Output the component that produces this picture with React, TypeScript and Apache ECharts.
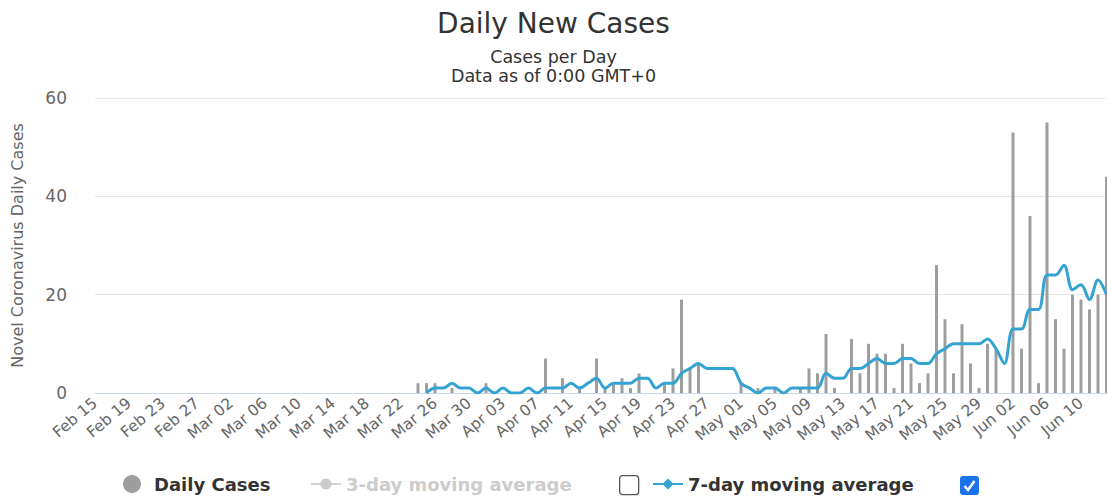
import React, { useEffect, useRef } from "react";
import * as echarts from "echarts";

const categories: string[] = [
  "Feb 15","Feb 16","Feb 17","Feb 18","Feb 19","Feb 20","Feb 21","Feb 22","Feb 23","Feb 24","Feb 25","Feb 26","Feb 27","Feb 28","Feb 29",
  "Mar 01","Mar 02","Mar 03","Mar 04","Mar 05","Mar 06","Mar 07","Mar 08","Mar 09","Mar 10","Mar 11","Mar 12","Mar 13","Mar 14","Mar 15","Mar 16","Mar 17","Mar 18","Mar 19","Mar 20","Mar 21","Mar 22","Mar 23","Mar 24","Mar 25","Mar 26","Mar 27","Mar 28","Mar 29","Mar 30","Mar 31",
  "Apr 01","Apr 02","Apr 03","Apr 04","Apr 05","Apr 06","Apr 07","Apr 08","Apr 09","Apr 10","Apr 11","Apr 12","Apr 13","Apr 14","Apr 15","Apr 16","Apr 17","Apr 18","Apr 19","Apr 20","Apr 21","Apr 22","Apr 23","Apr 24","Apr 25","Apr 26","Apr 27","Apr 28","Apr 29","Apr 30",
  "May 01","May 02","May 03","May 04","May 05","May 06","May 07","May 08","May 09","May 10","May 11","May 12","May 13","May 14","May 15","May 16","May 17","May 18","May 19","May 20","May 21","May 22","May 23","May 24","May 25","May 26","May 27","May 28","May 29","May 30","May 31",
  "Jun 01","Jun 02","Jun 03","Jun 04","Jun 05","Jun 06","Jun 07","Jun 08","Jun 09","Jun 10","Jun 11","Jun 12","Jun 13"
];

// Daily new cases (Feb 15 .. Jun 13)
const dailyCases: number[] = [
  0,0,0,0,0,0,0,0,0,0,0,0,0,0,0,
  0,0,0,0,0,0,0,0,0,0,0,0,0,0,0,0,0,0,0,0,0,0,0,2,2,2,0,1,0,0,0,
  2,0,0,0,0,0,0,7,0,3,0,1,0,7,1,2,3,1,4,0,0,2,5,19,5,6,0,0,0,0,
  2,0,1,0,1,0,0,1,5,4,12,1,0,11,4,10,8,8,1,10,6,2,4,26,15,4,14,6,1,10,9,
  0,53,9,36,2,55,15,9,20,19,17,20,44
];

// 7-day moving average as drawn (null before it starts)
const movingAvg7: (number | null)[] = [
  null,null,null,null,null,null,null,null,null,null,null,null,null,null,null,
  null,null,null,null,null,null,null,null,null,null,null,null,null,null,null,null,null,null,null,null,null,null,null,null,0,1,1,2,1,1,0,
  1,0,1,0,0,1,0,1,1,1,2,1,2,3,1,2,2,2,3,3,1,2,2,4,5,6,5,5,5,5,
  2,1,0,1,1,0,1,1,1,1,4,3,3,5,5,6,7,6,6,7,7,6,6,8,9,10,10,10,10,11,9,
  6,13,13,17,17,24,24,26,21,22,19,23,20
];

const movingAvg3: (number | null)[] = [];

const yTicks = { min: 0, max: 60, interval: 20 };

export default function App() {
  const ref = useRef<HTMLDivElement>(null);

  useEffect(() => {
    document.body.style.margin = "0";
    if (!ref.current) return;
    const chart = echarts.init(ref.current, undefined, { renderer: "svg" });
    const font = "DejaVu Sans";
    const legendText = { fontSize: 18, fontWeight: "bold", color: "#333333", fontFamily: font };
    chart.setOption({
      animation: false,
      backgroundColor: "#ffffff",
      textStyle: { fontFamily: font },
      title: {
        text: "Daily New Cases",
        subtext: "Cases per Day\nData as of 0:00 GMT+0",
        left: "center",
        top: 4,
        itemGap: 10,
        textStyle: { fontSize: 28, fontWeight: "normal", color: "#333333", fontFamily: font },
        subtextStyle: { fontSize: 17.5, color: "#333333", lineHeight: 19, fontFamily: font },
      },
      grid: { left: 95, right: 0.5, top: 98, bottom: 104, containLabel: false },
      legend: [
        {
          data: ["Daily Cases"],
          left: 123,
          top: 475,
          padding: 0,
          icon: "circle",
          itemWidth: 34,
          itemHeight: 18,
          textStyle: legendText,
        },
        {
          data: ["3-day moving average"],
          left: 310,
          top: 475,
          padding: 0,
          itemWidth: 30,
          itemHeight: 14,
          inactiveColor: "#cccccc",
          selected: { "3-day moving average": false },
          textStyle: legendText,
        },
        {
          data: ["7-day moving average"],
          left: 652,
          top: 475,
          padding: 0,
          itemWidth: 30,
          itemHeight: 14,
          textStyle: legendText,
        },
      ],
      xAxis: {
        type: "category",
        data: categories,
        boundaryGap: false,
        axisLine: { lineStyle: { color: "#ccd6eb" } },
        axisTick: { show: false },
        axisLabel: { interval: 3, rotate: 40, color: "#666666", fontSize: 15.5, margin: 8 },
        splitLine: { show: false },
      },
      yAxis: {
        type: "value",
        min: yTicks.min,
        max: yTicks.max,
        interval: yTicks.interval,
        name: "Novel Coronavirus Daily Cases",
        nameLocation: "middle",
        nameGap: 70,
        nameRotate: 90,
        nameTextStyle: { fontSize: 16, color: "#666666" },
        axisLine: { show: false },
        axisTick: { show: false },
        axisLabel: { color: "#666666", fontSize: 17, margin: 28 },
        splitLine: { lineStyle: { color: "#e6e6e6" } },
      },
      series: [
        {
          name: "Daily Cases",
          type: "bar",
          data: dailyCases,
          barWidth: 3,
          itemStyle: { color: "#9e9e9e" },
        },
        {
          name: "3-day moving average",
          type: "line",
          data: movingAvg3,
          symbol: "circle",
          symbolSize: 8,
          itemStyle: { color: "#cccccc" },
        },
        {
          name: "7-day moving average",
          type: "line",
          data: movingAvg7,
          smooth: 0.35,
          showSymbol: false,
          symbol: "diamond",
          symbolSize: 10,
          connectNulls: false,
          lineStyle: { width: 3, color: "#33a3d3" },
          itemStyle: { color: "#33a3d3" },
        },
      ],
      graphic: [
        {
          type: "rect",
          left: 619,
          top: 475,
          shape: { width: 19, height: 19, r: 3 },
          style: { fill: "#ffffff", stroke: "#555555", lineWidth: 1.3 },
        },
        {
          type: "group",
          left: 960,
          top: 476,
          children: [
            {
              type: "rect",
              shape: { x: 0, y: 0, width: 19, height: 19, r: 3 },
              style: { fill: "#1a73e8" },
            },
            {
              type: "polyline",
              shape: { points: [[4.5, 10], [8, 14], [14.5, 5]] },
              style: { stroke: "#ffffff", lineWidth: 2.5, fill: "none" },
            },
          ],
        },
      ],
    });
    return () => chart.dispose();
  }, []);

  return (
    <div
      ref={ref}
      style={{ position: "fixed", left: 0, top: 0, width: 1107, height: 497 }}
    />
  );
}
